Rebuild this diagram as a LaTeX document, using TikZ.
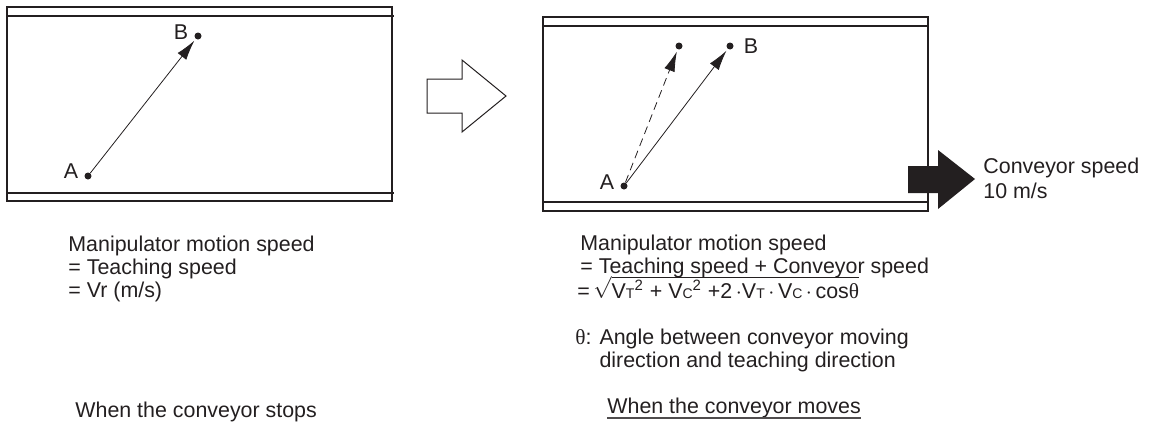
\documentclass[tikz,border=0pt]{standalone}
\usepackage{fontspec}
\setmainfont{Liberation Sans}
\newfontfamily\greekserif{Liberation Serif}
\usetikzlibrary{arrows.meta,positioning}
\definecolor{Ink}{HTML}{231F20}
\newcommand{\lowsub}[1]{{\fontsize{7}{7}\selectfont #1}}
\newcommand{\theangle}{{\greekserif θ}}

\begin{document}
\begin{tikzpicture}[x=0.5pt,y=-0.5pt,
    font=\fontsize{10.7}{11.4}\selectfont,text=Ink,
    belt/.style={draw=Ink,line width=0.6pt},
    dot/.style={circle,fill=Ink,inner sep=0pt,minimum size=3.5pt},
    ptlabel/.style={inner sep=0pt},
    motion/.style={-{Latex[length=10pt,width=5.5pt]},line width=0.4pt,draw=Ink,shorten >=1pt},
    bigarrow/.style={draw=Ink,line width=0.5pt,line join=miter},
    note/.style={anchor=base west,inner sep=0pt,align=left}
]
\useasboundingbox (0,0) rectangle (1149,424);

% conveyor stopped
\draw[belt] (7,7) rectangle (392,201);
\draw[belt] (7,16) -- (394,16);
\draw[belt] (7,193) -- (394,193);
\node[dot] (A1) at (88,176) {};
\node[dot] (B1) at (198,36) {};
\node[ptlabel,left=2.75pt of A1,yshift=2.2pt] (labA1) {A};
\node[ptlabel,left=2.75pt of B1,yshift=2pt] (labB1) {B};
\draw[motion] (A1) -- (B1);

% hollow arrow between the two cases
\draw[bigarrow] (427,79) -- (462,79) -- (462,60) -- (506,96) -- (462,132) -- (462,113) -- (427,113) -- cycle;

% conveyor moving
\draw[belt] (543,17) rectangle (928,211);
\draw[belt] (543,26) -- (928,26);
\draw[belt] (543,202) -- (928,202);
\node[dot] (A2) at (624,186) {};
\node[dot] (T2) at (679,46) {};
\node[dot] (B2) at (730,46) {};
\node[ptlabel,left=2.75pt of A2,yshift=1.8pt] (labA2) {A};
\node[ptlabel,right=4.75pt of B2] (labB2) {B};
\draw[motion,dash pattern=on 4pt off 2.5pt] (A2) -- (T2);
\draw[motion] (A2) -- (B2);

% conveyor direction
\fill[Ink] (908,166) -- (938,166) -- (938,150) -- (975,179) -- (938,209) -- (938,193) -- (908,193) -- cycle;
\node[note,font=\fontsize{10.7}{12.5}\selectfont] (speed) at (983,198) {Conveyor speed\\10 m/s};

% texts below (base = last line)
\node[note] (stopeq) at (68,297) {Manipulator motion speed\\= Teaching speed\\= Vr (m/s)};
\node[note] (stopcap) at (75,417) {When the conveyor stops};

\node[note] (moveeq) at (580,273) {Manipulator motion speed\\= Teaching speed + Conveyor speed};
\node[note] (formula) at (577,298) {=\,$\sqrt{\mbox{V\lowsub{T}\textsuperscript{2} + V\lowsub{C}\textsuperscript{2} +2\,$\cdot$V\lowsub{T}\,$\cdot$\,V\lowsub{C}\,$\cdot$\,cos\theangle}}$};
\node[note] (thetanote) at (575,367) {\theangle: Angle between conveyor moving\\\phantom{\theangle: }direction and teaching direction};
\node[note] (movecap) at (607,413) {When the conveyor moves};
\draw[draw=Ink!80,line width=0.7pt] ([yshift=-2.5pt]movecap.base west) -- ([yshift=-2.5pt]movecap.base east);
\end{tikzpicture}
\end{document}
